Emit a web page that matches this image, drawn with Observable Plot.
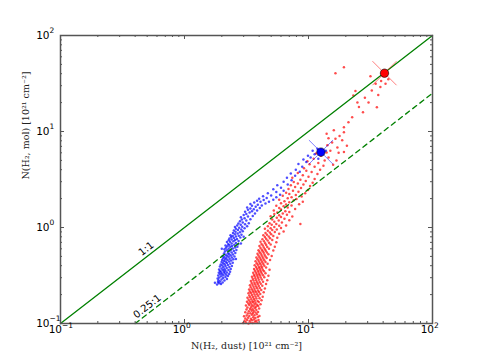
<!DOCTYPE html>
<html><head><meta charset="utf-8">
<script src="https://cdn.jsdelivr.net/npm/d3@7"></script>
<script src="https://cdn.jsdelivr.net/npm/@observablehq/plot@0.6"></script>
<style>body{margin:0;background:#fff}svg{display:block}</style>
</head><body><div id="chart"></div>
<script>
const majorTicks = [0.1, 1, 10, 100];
const minorTicks = [0.2,0.3,0.4,0.5,0.6,0.7,0.8,0.9,2,3,4,5,6,7,8,9,20,30,40,50,60,70,80,90];
const tickBase = ["10", "10", "10", "10"];
const tickExp = ["\u22121", "0", "1", "2"];
const xLabel = "N(H\u2082, dust) [10\u00B2\u00B9 cm\u207B\u00B2]";
const yLabel = "N(H\u2082, mol) [10\u00B2\u00B9 cm\u207B\u00B2]";
const oneToOne = [[0.1, 0.1], [100, 100]];
const quarterToOne = [[0.4, 0.1], [100, 25]];
const lineLabels = [{x: 0.49, y: 0.6, t: "1:1"}, {x: 0.5, y: 0.151, t: "0.25:1"}];
const bigRed = [[41, 40.5]];
const bigBlue = [[12.6, 6.1]];

const bluePoints = [
[1.83,0.255],[1.9,0.262],[1.97,0.258],[1.86,0.27],[1.94,0.274],[2.03,0.268],[1.88,0.283],[1.99,0.287],[2.1,0.281],[2.2,0.29],[1.85,0.295],[2.05,0.298],
[1.91,0.302],[2.14,0.305],[1.98,0.31],[2.24,0.312],[1.87,0.316],[2.06,0.318],[2.17,0.322],[1.94,0.325],[2.01,0.33],[2.29,0.328],[2.11,0.334],[1.89,0.338],[1.97,0.342],[2.2,0.34],[2.08,0.347],[2.33,0.345],[1.93,0.352],[2.14,0.355],[2.03,0.358],[2.26,0.36],
[1.9,0.365],[2.1,0.368],[2.36,0.37],[1.99,0.375],[2.19,0.378],[2.06,0.385],[2.3,0.388],[1.93,0.392],[2.14,0.396],[2.41,0.398],[2.02,0.403],[2.24,0.406],[1.96,0.412],[2.11,0.415],[2.34,0.418],[2.05,0.425],[2.2,0.428],[2.45,0.43],[1.99,0.436],[2.15,0.44],[2.29,0.443],[2.08,0.449],
[2.38,0.452],[2.01,0.458],[2.22,0.46],[2.13,0.466],[2.48,0.468],[2.31,0.472],[2.05,0.478],[2.18,0.482],[2.41,0.486],[2.1,0.492],[2.27,0.495],[2.53,0.498],[2.03,0.505],[2.2,0.508],[2.36,0.512],[2.14,0.52],[2.46,0.522],[2.29,0.528],[2.08,0.535],[2.24,0.54],[2.57,0.544],[2.4,0.55],
[2.12,0.562],[2.3,0.566],[2.5,0.57],[2.2,0.578],[2.62,0.582],[2.37,0.588],[2.1,0.595],[2.27,0.6],[2.45,0.605],[2.16,0.615],[2.56,0.618],[2.34,0.625],[2.67,0.63],[2.22,0.638],[2.42,0.642],[2.14,0.65],[2.3,0.656],[2.52,0.66],[2.7,0.668],[2.25,0.675],[2.4,0.682],[2.6,0.69],
[2.2,0.705],[2.33,0.712],[2.48,0.72],[2.73,0.725],[2.27,0.735],[2.56,0.742],[2.4,0.75],[2.65,0.76],[2.3,0.77],[2.5,0.778],[2.82,0.785],[2.38,0.795],[2.6,0.805],[2.45,0.815],[2.74,0.822],[2.35,0.83],[2.88,0.84],[2.55,0.85],[2.68,0.865],[2.46,0.878],
[2.8,0.89],[2.58,0.905],[2.95,0.915],[2.5,0.93],[2.7,0.94],[2.87,0.955],[2.6,0.97],[3.05,0.98],[2.76,0.995],[2.55,1.01],[2.92,1.02],[3.2,1.03],[2.66,1.05],[2.84,1.065],[3.08,1.08],[2.72,1.1],[3.3,1.11],[2.95,1.13],[2.8,1.16],[3.15,1.18],
[2.9,1.21],[3.4,1.22],[3.05,1.25],[2.85,1.28],[3.25,1.3],[3.55,1.32],[3.0,1.35],[3.15,1.38],[3.7,1.4],[3.35,1.43],[3.08,1.46],[3.5,1.48],[3.85,1.5],[3.25,1.53],[3.62,1.55],[3.4,1.58],[4.05,1.6],[3.2,1.62],
[3.75,1.64],[3.5,1.68],[4.2,1.7],[3.9,1.73],[3.4,1.76],[4.5,1.78],[3.65,1.82],[4.1,1.85],[4.8,1.86],[3.85,1.9],[4.35,1.93],[5.2,1.95],[4.0,1.99],[4.6,2.03],[5.5,2.06],
[4.3,2.12],[5.0,2.15],[5.9,2.2],[4.7,2.28],[5.5,2.35],[6.3,2.42],[5.2,2.5],[6.0,2.6],[5.6,2.75],[6.8,2.8],[6.3,3.0],[7.3,3.1],[6.7,3.3],[7.8,3.45],[7.2,3.65],[8.5,3.8],[7.9,4.0],[8.9,4.3],[8.3,4.6],[9.6,4.8],[9.1,5.1],[10.4,5.35],[9.9,5.6],[11.2,5.8],[10.8,6.3],[11.8,6.6],[13.8,6.3],[12.0,5.2],
[1.76,0.265],[2.6,0.47],[2.85,0.68],[2.0,0.6],[3.0,0.8]
];

const redPoints = [
[2.97,0.101],[3.12,0.103],[3.28,0.1],[3.41,0.102],[3.55,0.101],[3.7,0.104],[3.86,0.102],[3.05,0.107],[3.2,0.109],[3.35,0.106],[3.49,0.108],[3.63,0.11],[3.79,0.107],[3.95,0.109],[3.1,0.113],[3.26,0.115],[3.43,0.112],[3.58,0.116],[3.73,0.114],[3.9,0.117],[3.02,0.119],[3.17,0.121],[3.33,0.12],[3.5,0.123],[3.66,0.122],[3.83,0.125],[4.02,0.12],[3.24,0.127],[3.4,0.128],[3.57,0.129],
[3.09,0.131],[3.74,0.13],[3.92,0.132],[3.3,0.134],[3.47,0.136],[3.62,0.135],[3.8,0.138],[3.16,0.14],[3.38,0.142],[3.54,0.141],[3.7,0.144],[4.0,0.143],[3.22,0.147],[3.44,0.148],[3.6,0.15],[3.77,0.149],[3.93,0.152],[3.13,0.154],[3.33,0.156],[3.5,0.155],[3.67,0.158],[3.85,0.157],[4.1,0.159],[3.27,0.162],[3.42,0.163],[3.58,0.165],[3.74,0.164],[3.97,0.167],[3.19,0.168],[3.36,0.17],
[3.53,0.171],[3.69,0.173],[3.88,0.172],[4.18,0.175],[3.29,0.177],[3.46,0.179],[3.63,0.18],[3.8,0.182],[4.03,0.183],[3.22,0.186],[3.39,0.188],[3.57,0.189],[3.74,0.191],[3.94,0.193],[4.27,0.19],[3.33,0.196],[3.5,0.198],[3.67,0.2],[3.86,0.202],[4.08,0.203],[3.28,0.206],[3.44,0.208],[3.61,0.21],[3.79,0.212],[3.99,0.213],[4.35,0.211],[3.37,0.216],[3.55,0.218],[3.72,0.22],[3.92,0.221],
[4.16,0.223],[3.32,0.226],[3.49,0.228],[3.66,0.23],[3.85,0.233],[4.05,0.235],[4.45,0.232],[3.42,0.238],[3.6,0.241],[3.78,0.243],[3.97,0.246],[4.24,0.247],[3.37,0.25],[3.54,0.253],[3.72,0.255],[3.9,0.258],[4.12,0.26],[4.55,0.258],[3.48,0.264],[3.66,0.266],[3.84,0.269],[4.03,0.271],[4.3,0.273],[3.43,0.277],[3.6,0.28],[3.78,0.282],[3.97,0.285],[4.2,0.287],[4.65,0.283],[3.55,0.293],
[3.73,0.296],[3.92,0.299],[4.12,0.302],[4.4,0.304],[3.5,0.307],[3.68,0.31],[3.87,0.313],[4.06,0.316],[4.3,0.318],[4.75,0.315],[3.63,0.322],[3.82,0.325],[4.0,0.328],[4.2,0.331],[4.5,0.333],[3.58,0.337],[3.77,0.34],[3.95,0.343],[4.14,0.347],[4.38,0.35],[3.7,0.354],[3.9,0.357],[4.08,0.361],[4.28,0.364],[4.85,0.362],[3.64,0.369],[3.84,0.372],[4.03,0.376],[4.22,0.38],[4.55,0.383],
[3.78,0.388],[3.98,0.391],[4.17,0.395],[4.4,0.4],[3.68,0.405],[3.9,0.409],[4.1,0.413],[4.32,0.417],[4.68,0.42],[3.82,0.425],[4.03,0.43],[4.24,0.435],[4.5,0.438],[3.74,0.444],[3.96,0.448],[4.17,0.453],[4.4,0.457],[4.9,0.46],[3.88,0.466],[4.1,0.47],[4.32,0.476],[4.6,0.48],[3.8,0.486],[4.03,0.49],[4.25,0.496],[4.5,0.5],[5.05,0.505],[3.95,0.51],
[4.18,0.516],[4.42,0.52],[4.75,0.526],[3.88,0.533],[4.1,0.54],[4.35,0.545],[4.62,0.55],[4.02,0.558],[4.27,0.565],[4.52,0.572],[5.2,0.575],[3.95,0.58],[4.2,0.588],[4.45,0.595],[4.8,0.6],[4.1,0.61],[4.36,0.62],[4.65,0.628],[5.35,0.63],[4.02,0.64],[4.28,0.65],[4.56,0.658],[4.95,0.665],[4.18,0.675],[4.47,0.685],[4.8,0.692],[5.5,0.7],[4.1,0.71],
[4.38,0.72],[4.68,0.73],[5.1,0.74],[4.25,0.755],[4.55,0.765],[4.9,0.775],[5.6,0.78],[4.45,0.795],[4.78,0.805],[5.2,0.815],[4.32,0.83],[4.62,0.84],[5.0,0.85],[5.8,0.86],[4.5,0.875],[4.88,0.885],[5.35,0.9],[6.3,0.91],[4.7,0.925],[5.1,0.94],[5.55,0.955],[4.45,0.97],[4.95,0.985],[6.0,0.99],
[5.3,1.01],[4.7,1.03],[5.8,1.04],[6.6,1.05],[5.05,1.07],[5.5,1.09],[8.6,1.09],[4.85,1.11],[6.1,1.13],[5.3,1.15],[5.75,1.18],[7.0,1.19],[5.1,1.21],[6.4,1.23],[5.55,1.26],[6.0,1.29],[4.95,1.31],[7.4,1.3],[5.8,1.34],[6.7,1.36],[5.3,1.38],[6.2,1.4],
[5.6,1.43],[7.0,1.45],[6.5,1.48],[5.25,1.5],[6.0,1.54],[7.8,1.56],[5.8,1.6],[6.8,1.62],[6.3,1.66],[5.5,1.68],[7.3,1.7],[6.6,1.74],[8.4,1.75],[6.0,1.79],[7.0,1.83],[9.0,1.85],[6.4,1.88],[7.6,1.92],[5.8,1.95],[8.0,1.98],
[6.8,2.02],[7.3,2.07],[8.8,2.1],[6.2,2.14],[7.9,2.18],[7.0,2.24],[9.4,2.27],[6.6,2.3],[8.3,2.36],[7.5,2.42],[9.9,2.46],[6.9,2.52],[8.7,2.58],[7.8,2.64],[10.3,2.7],[7.2,2.76],[9.1,2.8],[8.2,2.88],[10.8,2.92],[7.6,2.98],
[9.5,3.05],[8.6,3.15],[11.2,3.2],[7.4,3.3],[10.0,3.38],[9.0,3.5],[11.8,3.6],[8.2,3.7],[10.6,3.78],[9.6,3.9],[12.4,4.0],[9.2,4.15],[11.2,4.3],[13.2,4.4],[10.2,4.55],[12.0,4.7],[9.8,4.9],[13.5,5.0],[11.0,5.2],[14.5,5.35],[12.6,5.6],[11.5,5.9],[14.0,6.05],[13.0,6.4],
[15.0,6.3],[19.3,6.1],[17.1,6.8],[20.4,7.1],[15.5,7.7],[18.7,8.1],[16.5,8.4],[19.3,9.85],[19.3,11.1],[17.8,9.0],[14.2,7.2],[16.0,10.3],
[22.5,14.1],[27.5,15.9],[35.6,17.9],[24.8,20.1],[30.5,20.1],[23.0,23.7],[23.9,26.4],[32.4,26.7],[38.0,29.0],[34.8,31.4],[41.8,31.4],[31.6,37.7],[21.0,12.5],[25.5,18.0],[28.5,22.5],[36.5,24.0],[44.0,35.0],[38.5,33.5],
[19.3,46.8],[16.5,40.5],[14.5,8.5],[16.8,5.0],[15.8,4.5],[17.5,6.0],[14.0,9.5]
];

const W = 372, H = 288;
const green = "#008000", axisCol = "#555";

const plot = Plot.plot({
  width: 480, height: 360,
  marginLeft: 60, marginRight: 48, marginTop: 35, marginBottom: 37,
  style: {fontFamily: "DejaVu Sans, sans-serif", background: "#fff"},
  x: {type: "log", domain: [0.1, 100], axis: null},
  y: {type: "log", domain: [0.1, 100], axis: null},
  marks: [
    Plot.dot(redPoints, {x: d => d[0], y: d => d[1], r: 1.25, fill: "#ff0000", fillOpacity: 0.7}),
    Plot.dot(bluePoints, {x: d => d[0], y: d => d[1], r: 1.25, fill: "#0000ff", fillOpacity: 0.7}),
    Plot.line(oneToOne, {x: d => d[0], y: d => d[1], stroke: green, strokeWidth: 1.3}),
    Plot.line(quarterToOne, {x: d => d[0], y: d => d[1], stroke: green, strokeWidth: 1.3, strokeDasharray: "5,4"}),
    Plot.text(lineLabels, {x: "x", y: "y", text: "t", rotate: -37.7, fontSize: 10, fill: "#000"}),
    Plot.dot(bigRed, {x: d => d[0], y: d => d[1], symbol: "times", r: 11, stroke: "#ff0000", strokeOpacity: 0.5, strokeWidth: 1}),
    Plot.dot(bigRed, {x: d => d[0], y: d => d[1], r: 4.2, fill: "#ff0000", stroke: "#000", strokeWidth: 0.6}),
    Plot.dot(bigBlue, {x: d => d[0], y: d => d[1], symbol: "times", r: 11, stroke: "#0000ff", strokeOpacity: 0.5, strokeWidth: 1}),
    Plot.dot(bigBlue, {x: d => d[0], y: d => d[1], r: 4.2, fill: "#0000ff", stroke: "#000", strokeWidth: 0.6}),
    // ticks (inward, all four sides)
    Plot.ruleX(majorTicks, {x: d => d, insetTop: H - 4, stroke: axisCol}),
    Plot.ruleX(majorTicks, {x: d => d, insetBottom: H - 4, stroke: axisCol}),
    Plot.ruleX(minorTicks, {x: d => d, insetTop: H - 2, stroke: axisCol}),
    Plot.ruleX(minorTicks, {x: d => d, insetBottom: H - 2, stroke: axisCol}),
    Plot.ruleY(majorTicks, {y: d => d, insetRight: W - 4, stroke: axisCol}),
    Plot.ruleY(majorTicks, {y: d => d, insetLeft: W - 4, stroke: axisCol}),
    Plot.ruleY(minorTicks, {y: d => d, insetRight: W - 2, stroke: axisCol}),
    Plot.ruleY(minorTicks, {y: d => d, insetLeft: W - 2, stroke: axisCol}),
    Plot.frame({stroke: axisCol, strokeWidth: 1.5}),
    // tick labels: base "10" plus raised exponent
    Plot.text(majorTicks, {x: d => d, text: (d, i) => tickBase[i], frameAnchor: "bottom", textAnchor: "end", dx: 1.5, dy: 9, fontSize: 10.5, fill: "#000"}),
    Plot.text(majorTicks, {x: d => d, text: (d, i) => tickExp[i], frameAnchor: "bottom", textAnchor: "start", dx: 1.5, dy: 4, fontSize: 7.5, fill: "#000"}),
    Plot.text(majorTicks, {y: d => d, text: (d, i) => tickBase[i], frameAnchor: "left", textAnchor: "end", dx: -11, dy: 0, fontSize: 10.5, fill: "#000"}),
    Plot.text(majorTicks, {y: d => d, text: (d, i) => tickExp[i], frameAnchor: "left", textAnchor: "start", dx: -11, dy: -4.5, fontSize: 7.5, fill: "#000"}),
    // axis labels
    Plot.text([xLabel], {text: d => d, frameAnchor: "bottom", dy: 25, fontSize: 9.5, fontFamily: "DejaVu Serif, serif", fill: "#222"}),
    Plot.text([yLabel], {text: d => d, frameAnchor: "left", dx: -35, rotate: -90, fontSize: 9.5, fontFamily: "DejaVu Serif, serif", fill: "#222"})
  ]
});
document.getElementById("chart").appendChild(plot);
</script>
</body></html>
